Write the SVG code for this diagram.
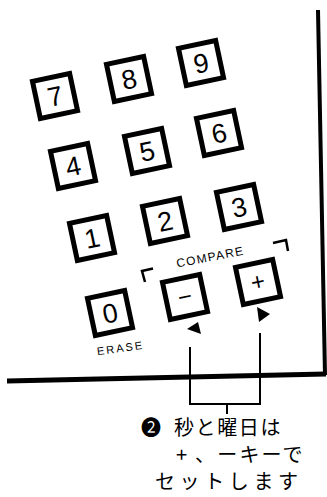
<svg xmlns="http://www.w3.org/2000/svg" width="327" height="497" viewBox="0 0 327 497">
<style>
.key rect{fill:#fff;stroke:#000;stroke-width:5}
.key text{font-family:"Liberation Sans",Arial,sans-serif;font-size:27px;text-anchor:middle;fill:#000}
.sym text{font-size:24px}
.lbl{font-family:"Liberation Sans",Arial,sans-serif;fill:#000;text-anchor:middle}
.jp{font-family:"Noto Sans CJK JP","DejaVu Sans",sans-serif;font-size:20px;fill:#000}
.ln{stroke:#000;fill:none}
</style>
<rect width="327" height="497" fill="#fff"/>
<g id="frame">
<line class="ln" x1="318" y1="10" x2="325" y2="375" stroke-width="4"/>
<line class="ln" x1="7" y1="381" x2="326" y2="374" stroke-width="5"/>
</g>
<g id="key7" class="key" transform="translate(55,96) rotate(-12)"><rect x="-19" y="-19" width="38" height="38"/><text y="9.7">7</text></g>
<g id="key8" class="key" transform="translate(129,79) rotate(-12)"><rect x="-19" y="-19" width="38" height="38"/><text y="9.7">8</text></g>
<g id="key9" class="key" transform="translate(201,63) rotate(-12)"><rect x="-19" y="-19" width="38" height="38"/><text y="9.7">9</text></g>
<g id="key4" class="key" transform="translate(73,166) rotate(-12)"><rect x="-19" y="-19" width="38" height="38"/><text y="9.7">4</text></g>
<g id="key5" class="key" transform="translate(147,151) rotate(-12)"><rect x="-19" y="-19" width="38" height="38"/><text y="9.7">5</text></g>
<g id="key6" class="key" transform="translate(219,133) rotate(-12)"><rect x="-19" y="-19" width="38" height="38"/><text y="9.7">6</text></g>
<g id="key1" class="key" transform="translate(92,238) rotate(-12)"><rect x="-19" y="-19" width="38" height="38"/><text y="9.7">1</text></g>
<g id="key2" class="key" transform="translate(165,221) rotate(-12)"><rect x="-19" y="-19" width="38" height="38"/><text y="9.7">2</text></g>
<g id="key3" class="key" transform="translate(239,207) rotate(-12)"><rect x="-19" y="-19" width="38" height="38"/><text y="9.7">3</text></g>
<g id="key0" class="key" transform="translate(110,313) rotate(-12)"><rect x="-19" y="-19" width="38" height="38"/><text y="9.7">0</text></g>
<g id="keyMinus" class="key sym" transform="translate(185,297) rotate(-12)"><rect x="-19" y="-19" width="38" height="38"/><text y="8">−</text></g>
<g id="keyPlus" class="key sym" transform="translate(258,282) rotate(-12)"><rect x="-19" y="-19" width="38" height="38"/><text y="8">+</text></g>
<g id="labels">
<text class="lbl" font-size="11" letter-spacing="2" transform="translate(121,352) rotate(-8)">ERASE</text>
<text class="lbl" font-size="12" letter-spacing="1.3" transform="translate(211,261) rotate(-11)">COMPARE</text>
<polyline class="ln" stroke-width="2.5" points="153,268.5 142,271 145,282"/>
<polyline class="ln" stroke-width="2.5" points="273,243 286,240 288,251"/>
<polygon points="187,329 198,322 201,334" fill="#000"/>
<polygon points="257,307 259,322 270,314" fill="#000"/>
</g>
<g id="connectors">
<polyline class="ln" stroke-width="2" points="190,347 190,404 260,404 260,333"/>
<line class="ln" stroke-width="2" x1="227" y1="404" x2="227" y2="414"/>
</g>
<g id="note">
<text class="jp" x="141" y="435" font-size="17">❷</text>
<text class="jp" x="174" y="435" letter-spacing="1.6">秒と曜日は</text>
<text class="jp" x="176" y="462">+</text>
<text class="jp" x="195" y="462" letter-spacing="2.2">、ーキーで</text>
<text class="jp" x="155" y="489" letter-spacing="4.6">セットします</text>
</g>
</svg>
